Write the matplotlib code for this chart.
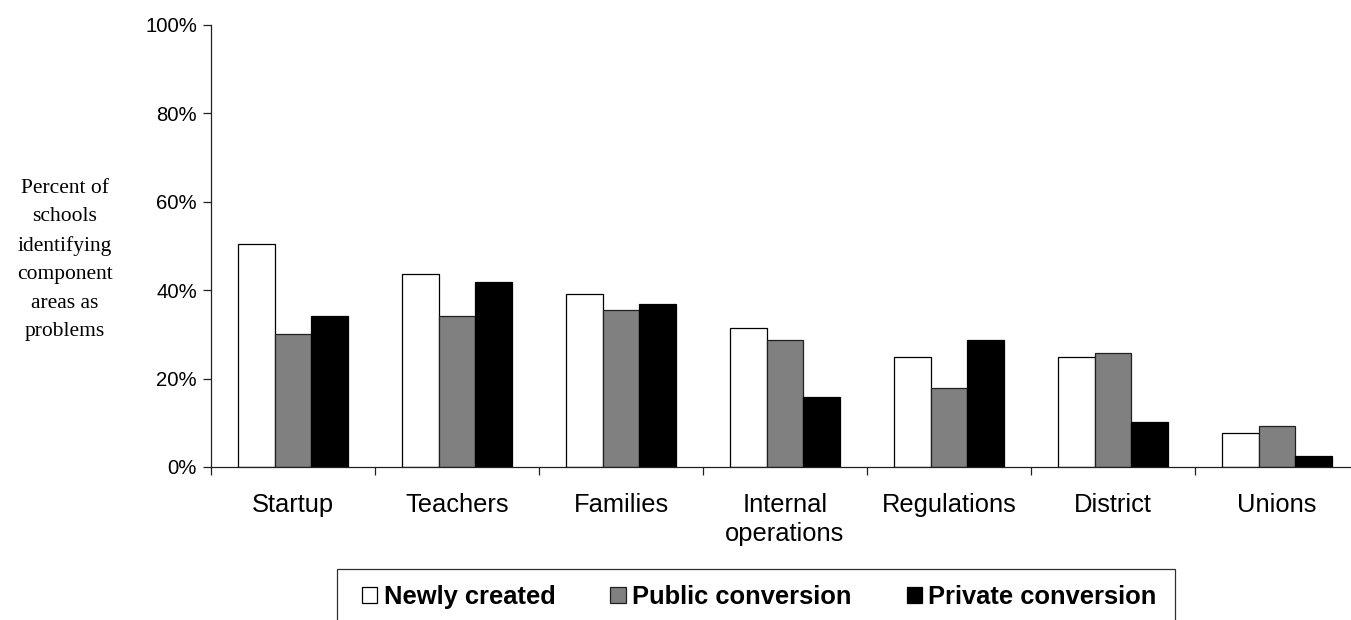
import numpy as np
import matplotlib
matplotlib.use("Agg")
import matplotlib.pyplot as plt
from matplotlib.patches import Rectangle
from matplotlib.ticker import FixedLocator, PercentFormatter

# Share of schools reporting each component area as a problem (%)
categories = ["Startup", "Teachers", "Families", "Internal\noperations",
              "Regulations", "District", "Unions"]
newly_created = [50.4, 43.7, 39.1, 31.4, 25.0, 25.0, 7.6]
public_conversion = [30.0, 34.1, 35.6, 28.7, 17.9, 25.9, 9.3]
private_conversion = [34.2, 41.9, 36.9, 15.8, 28.7, 10.2, 2.6]
series_names = ["Newly created", "Public conversion", "Private conversion"]
y_ticks = [0, 20, 40, 60, 80, 100]

W, H = 1351, 620
fig = plt.figure(figsize=(W / 100, H / 100), dpi=100)

# axes spans a little past the right edge, like the original export
ax = fig.add_axes([211 / W, 153 / H, 1148 / W, 442 / H])

x = np.arange(len(categories))
bw = 0.2226
ax.bar(x - bw, newly_created, bw, color="white", edgecolor="black", linewidth=0.9,
       label=series_names[0])
ax.bar(x, public_conversion, bw, color="#808080", edgecolor="#202020", linewidth=0.9,
       label=series_names[1])
ax.bar(x + bw, private_conversion, bw, color="black", edgecolor="black", linewidth=0.9,
       label=series_names[2])

ax.set_xlim(-0.5, len(categories) - 0.5)
ax.set_ylim(0, 100)

ax.spines["top"].set_visible(False)
ax.spines["right"].set_visible(False)
for s in ("left", "bottom"):
    ax.spines[s].set_color("#202020")
    ax.spines[s].set_linewidth(0.9)

ax.set_yticks(y_ticks)
ax.yaxis.set_major_formatter(PercentFormatter(decimals=0))
ax.tick_params(axis="y", length=5.5, width=0.9, pad=4.5, labelsize=14.6, color="#202020")

# category labels at centres, tick marks at the boundaries
ax.set_xticks(x)
ax.set_xticklabels(categories, linespacing=1.3)
ax.xaxis.set_minor_locator(FixedLocator(np.arange(len(categories) + 1) - 0.5))
ax.tick_params(axis="x", which="major", length=0, pad=18.5, labelsize=18.4)
ax.tick_params(axis="x", which="minor", length=6, width=0.9, color="#202020")

for lab in ax.get_xticklabels() + ax.get_yticklabels():
    lab.set_fontfamily("Liberation Sans")

fig.text(65 / W, 1 - 260 / H,
         "Percent of\nschools\nidentifying\ncomponent\nareas as\nproblems",
         ha="center", va="center", multialignment="center",
         family="Liberation Serif", fontsize=15.5, linespacing=1.67)

# legend frame runs off the bottom of the figure
fig.patches.append(Rectangle((337 / W, -10 / H), (1175 - 337) / W, (620 - 569 + 10) / H,
                             transform=fig.transFigure, fill=False,
                             edgecolor="#303030", linewidth=0.9))

handles, labels = ax.get_legend_handles_labels()
fig.legend(handles, labels, loc="center left", bbox_to_anchor=(362 / W, 1 - 597 / H),
           ncol=3, frameon=False, borderpad=0, borderaxespad=0,
           handlelength=0.6, handleheight=0.6, handletextpad=0.25,
           columnspacing=2.15,
           prop={"family": "Liberation Sans", "weight": "bold", "size": 18.4})

fig.savefig("out.png", dpi=100)
